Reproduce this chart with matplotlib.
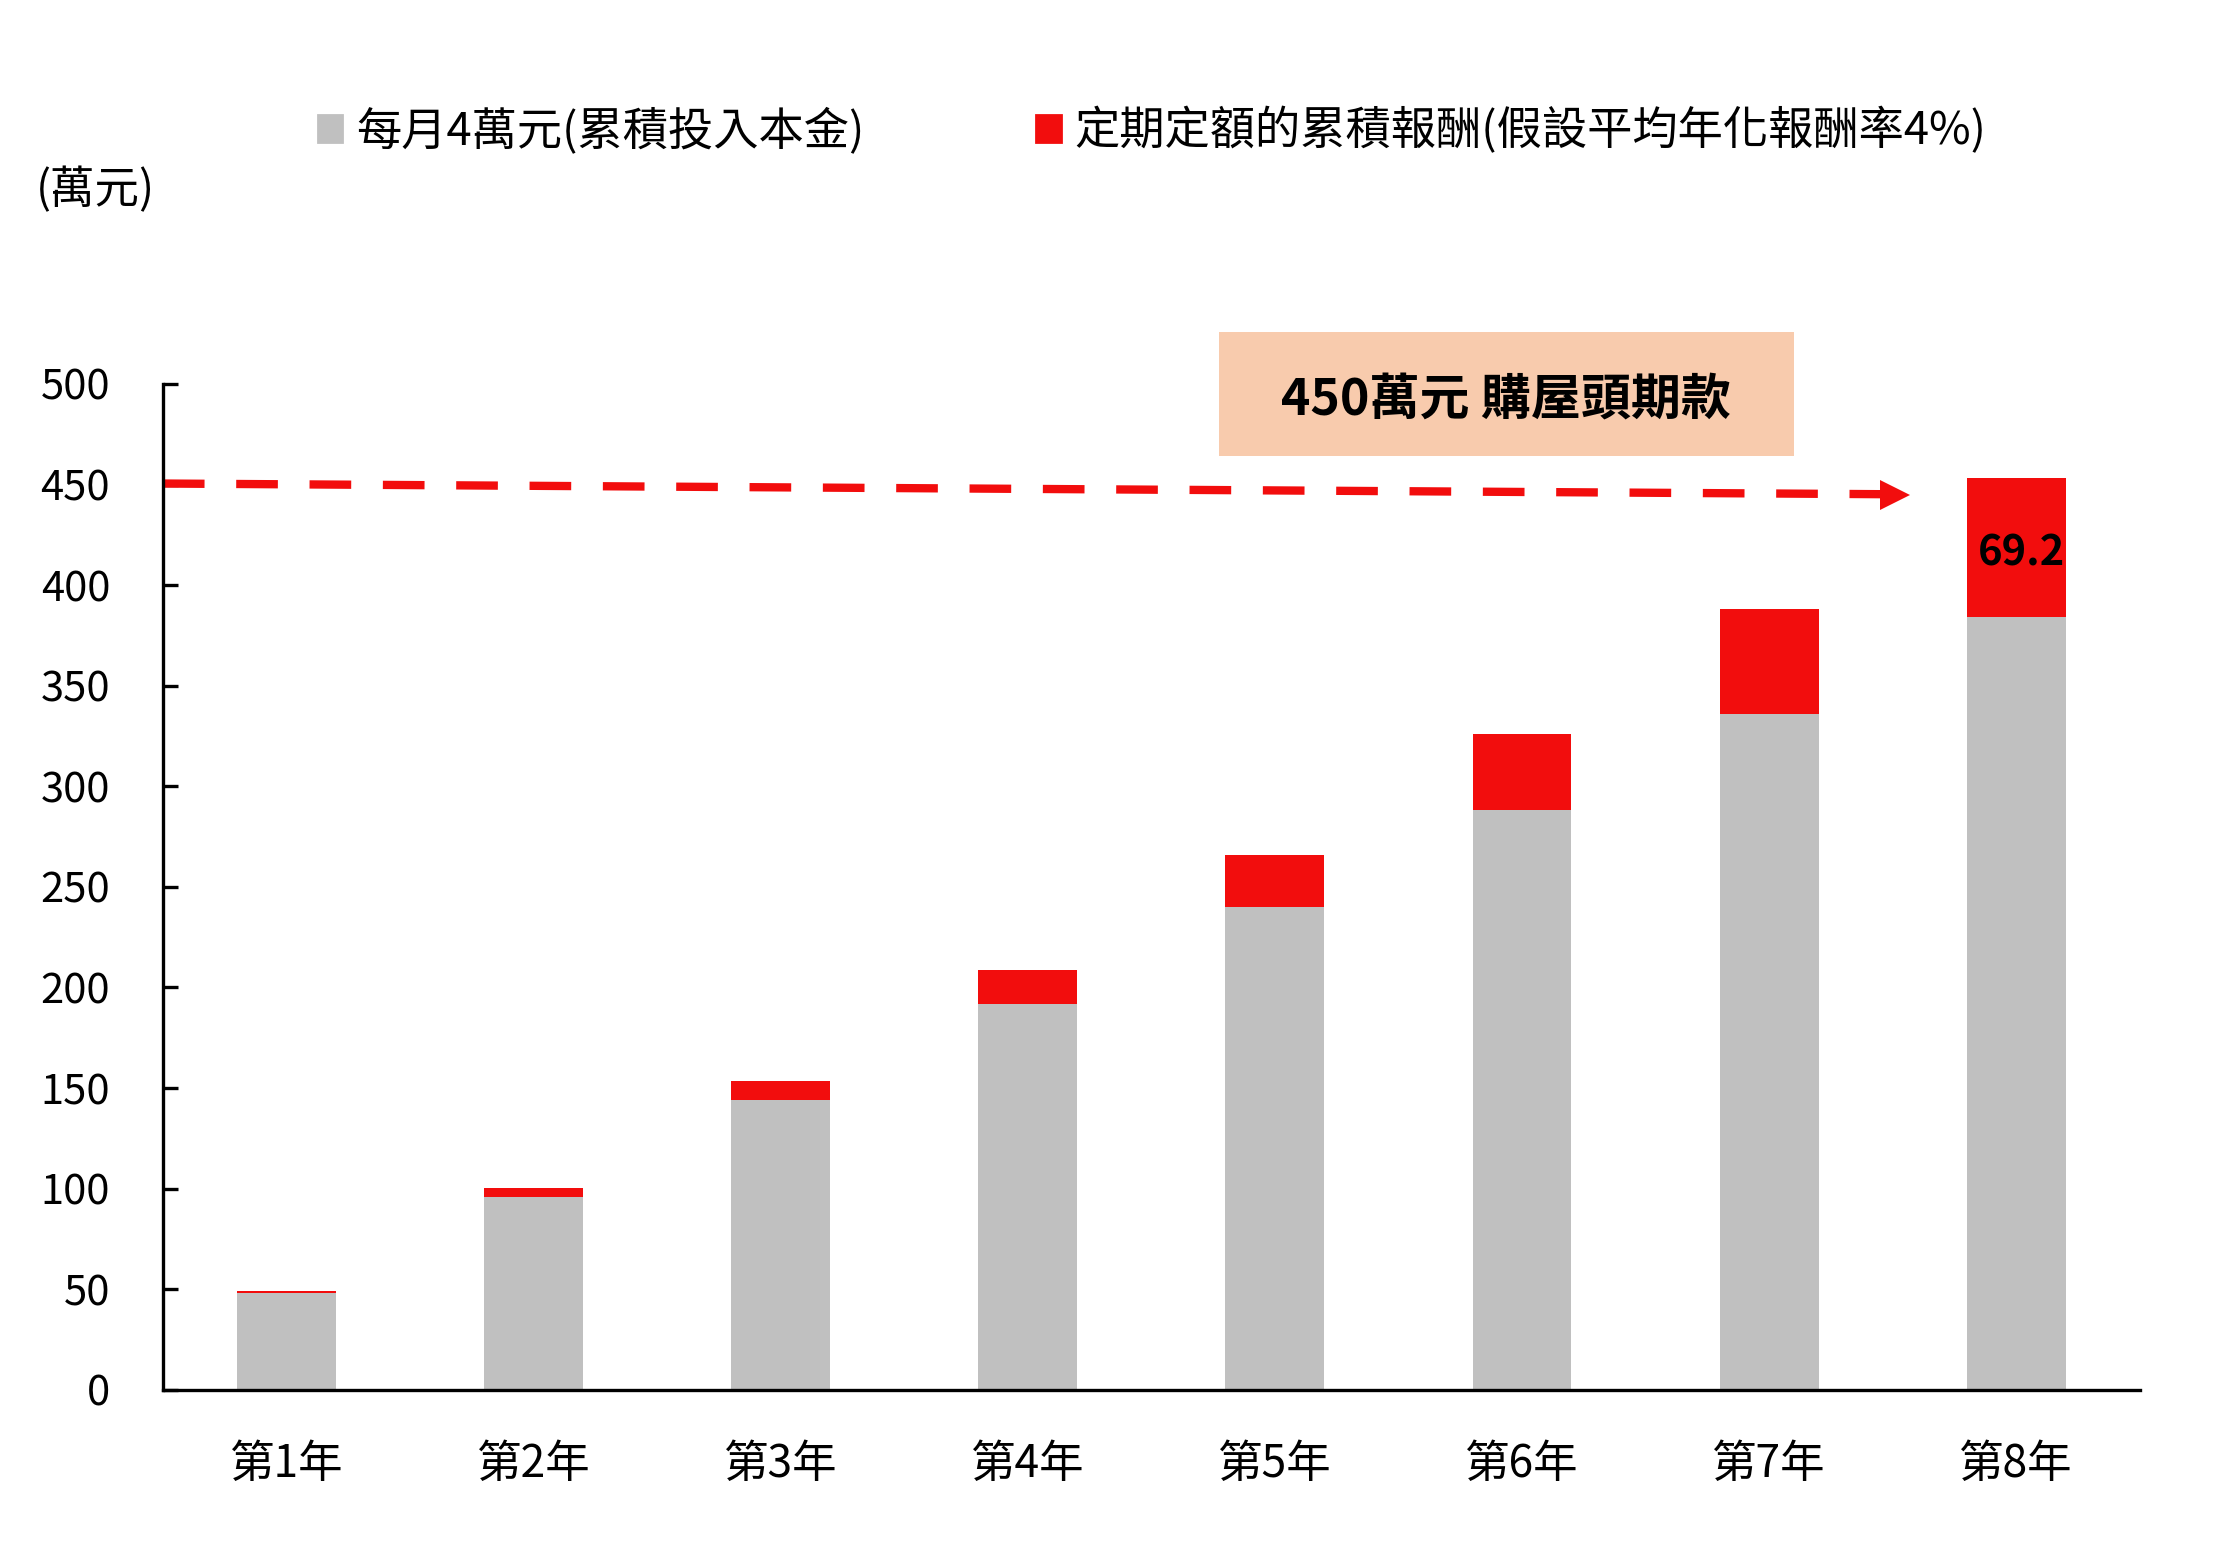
import numpy as np
import matplotlib.pyplot as plt
from matplotlib.patches import Patch, Rectangle

plt.rcParams['font.family'] = ['Noto Sans CJK TC', 'DejaVu Sans']

years = ['第1年', '第2年', '第3年', '第4年', '第5年', '第6年', '第7年', '第8年']
principal = [48, 96, 144, 192, 240, 288, 336, 384]
returns = [1.1, 4.3, 9.3, 16.5, 26.0, 38.0, 52.0, 69.2]
target = 450

gray = '#C0C0C0'
red = '#F20D0D'

fig = plt.figure(figsize=(11.11, 7.785), dpi=200)
ax = fig.add_axes([0.0733, 0.1074, 0.8897, 0.646])

x = np.arange(len(years))
ax.bar(x, principal, width=0.4, color=gray)
ax.bar(x, returns, width=0.4, bottom=principal, color=red)

# 最後一年的報酬標示
ax.text(x[-1] + 0.02, principal[-1] + returns[-1] / 2 - 2.8, f'{returns[-1]:.1f}',
        ha='center', va='center', fontsize=15, fontweight='bold')

# 450萬元虛線箭頭
ax.plot([-0.5, 6.46], [target + 0.5, target - 4.8], color=red, lw=3.0,
        dashes=(5, 3.8), solid_capstyle='butt', clip_on=False)
ax.plot([6.51], [target - 5], marker='>', color=red, ms=11, mew=0)

ax.add_patch(Rectangle((0.534, 0.928), 0.291, 0.124, transform=ax.transAxes,
                       facecolor='#F8CBAD', edgecolor='none', clip_on=False))
ax.text(0.6795, 0.984, '450萬元 購屋頭期款', transform=ax.transAxes,
        ha='center', va='center', fontsize=18, fontweight='bold')

ax.set_xlim(-0.5, 7.5)
ax.set_ylim(0, 500)
ax.set_yticks(range(0, 501, 50))
ax.set_xticks(x)
ax.set_xticklabels(years)
ax.tick_params(axis='y', direction='in', length=5.4, width=1.2,
               labelsize=15, pad=19)
ax.tick_params(axis='x', length=0, labelsize=16, pad=18.5)
for s in ['top', 'right']:
    ax.spines[s].set_visible(False)
for s in ['left', 'bottom']:
    ax.spines[s].set_linewidth(1.2)

handles = [Patch(color=gray, label='每月4萬元(累積投入本金)'),
           Patch(color=red, label='定期定額的累積報酬(假設平均年化報酬率4%)')]
fig.legend(handles=handles, loc='center', bbox_to_anchor=(0.5185, 0.916),
           ncol=2, frameon=False, fontsize=16.3, handlelength=0.55,
           handleheight=0.55, handletextpad=0.3, columnspacing=3.8)

fig.text(0.016, 0.878, '(萬元)', fontsize=16, va='center', ha='left')

fig.savefig('out.png', dpi=200)
